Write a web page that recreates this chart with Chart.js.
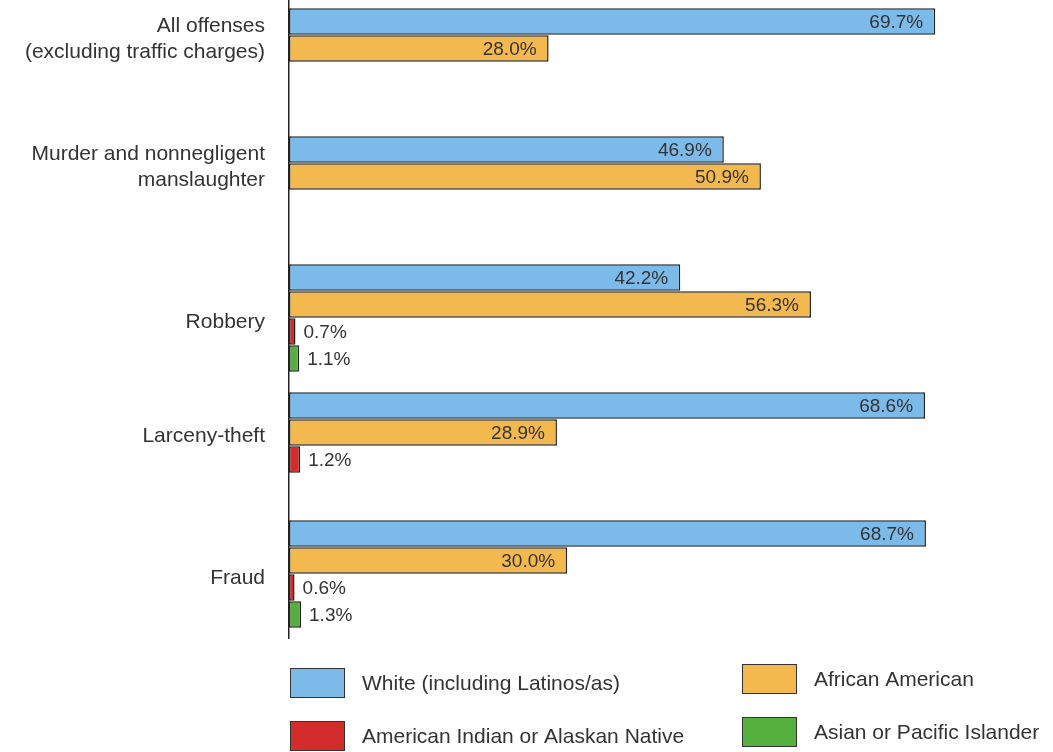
<!DOCTYPE html>
<html>
<head>
<meta charset="utf-8">
<script src="https://cdn.jsdelivr.net/npm/chart.js@4/dist/chart.umd.min.js"></script>
<style>
  html, body { margin: 0; padding: 0; background: #fff; overflow: hidden; }
  #wrap { position: relative; width: 1053px; height: 754px; margin-top: -2px; }
</style>
</head>
<body>
<div id="wrap"><canvas id="chart"></canvas></div>
<script>
// offense categories, multi-line names as arrays
const categories = [
  ['All offenses', '(excluding traffic charges)'],
  ['Murder and nonnegligent', 'manslaughter'],
  ['Robbery'],
  ['Larceny-theft'],
  ['Fraud']
];
// percent of arrests by race; null = not reported
const white = [69.7, 46.9, 42.2, 68.6, 68.7];
const africanAmerican = [28.0, 50.9, 56.3, 28.9, 30.0];
const americanIndian = [null, null, 0.7, 1.2, 0.6];
const asianPacific = [null, null, 1.1, null, 1.3];

const seriesNames = ['White (including Latinos/as)', 'African American',
  'American Indian or Alaskan Native', 'Asian or Pacific Islander'];
const seriesColors = ['#7cbaea', '#f4b94e', '#d42b2b', '#55b03d'];

const FONT = '"Liberation Sans", Arial, sans-serif';
const TEXT = '#333333';

const labelsPlugin = {
  id: 'labels',
  afterDatasetsDraw(chart) {
    const ctx = chart.ctx;
    const area = chart.chartArea;
    ctx.save();
    ctx.fillStyle = TEXT;
    ctx.textBaseline = 'middle';

    // value labels: inside the bar end for long bars, outside for short ones
    ctx.font = '19px ' + FONT;
    chart.data.datasets.forEach((ds, di) => {
      const meta = chart.getDatasetMeta(di);
      meta.data.forEach((bar, i) => {
        const v = ds.data[i];
        if (v == null) return;
        const txt = v.toFixed(1) + '%';
        if (v > 5) {
          ctx.textAlign = 'right';
          ctx.fillText(txt, bar.x - 12, bar.y + 1);
        } else {
          ctx.textAlign = 'left';
          ctx.fillText(txt, bar.x + 8, bar.y + 1);
        }
      });
    });

    // category names centred on the bars that are present
    ctx.font = '21px ' + FONT;
    ctx.textAlign = 'right';
    categories.forEach((lines, i) => {
      const ys = [];
      chart.data.datasets.forEach((ds, di) => {
        if (ds.data[i] != null) ys.push(chart.getDatasetMeta(di).data[i].y);
      });
      const cy = ys.reduce((a, b) => a + b, 0) / ys.length + 4;
      const lh = 26;
      lines.forEach((ln, k) => {
        ctx.fillText(ln, area.left - 24, cy + (k - (lines.length - 1) / 2) * lh);
      });
    });

    // legend in two columns below the plot
    const cols = [area.left + 1, area.left + 453];
    const rows = [area.bottom + 45, area.bottom + 98];
    ctx.font = '21px ' + FONT;
    ctx.textAlign = 'left';
    chart.data.datasets.forEach((ds, di) => {
      const x = cols[di % 2];
      const y = rows[Math.floor(di / 2)] - (di % 2 ? 4 : 0);
      ctx.fillStyle = ds.backgroundColor;
      ctx.fillRect(x, y - 15, 55, 30);
      ctx.strokeStyle = '#333';
      ctx.lineWidth = 1;
      ctx.strokeRect(x + 0.5, y - 14.5, 54, 29);
      ctx.fillStyle = TEXT;
      ctx.fillText(ds.label, x + 72, y + 1);
    });
    ctx.restore();
  }
};

const seriesData = [white, africanAmerican, americanIndian, asianPacific];

new Chart(document.getElementById('chart'), {
  type: 'bar',
  data: {
    labels: categories.map(c => c.join(' ')),
    datasets: seriesData.map((d, i) => ({
      label: seriesNames[i],
      data: d,
      backgroundColor: seriesColors[i],
      borderColor: '#222222',
      borderWidth: 1.5,
      borderSkipped: false,
      barPercentage: 0.98,
      categoryPercentage: 0.845
    }))
  },
  options: {
    indexAxis: 'y',
    responsive: true,
    maintainAspectRatio: false,
    animation: false,
    layout: { padding: { left: 281, right: 115, top: 0, bottom: 114 } },
    plugins: {
      legend: { display: false },
      tooltip: { enabled: false }
    },
    scales: {
      x: { display: false, min: 0, max: 70 },
      y: {
        grid: { display: false },
        ticks: { display: false },
        border: { display: true, color: '#222', width: 1.5 }
      }
    }
  },
  plugins: [labelsPlugin]
});
</script>
</body>
</html>
